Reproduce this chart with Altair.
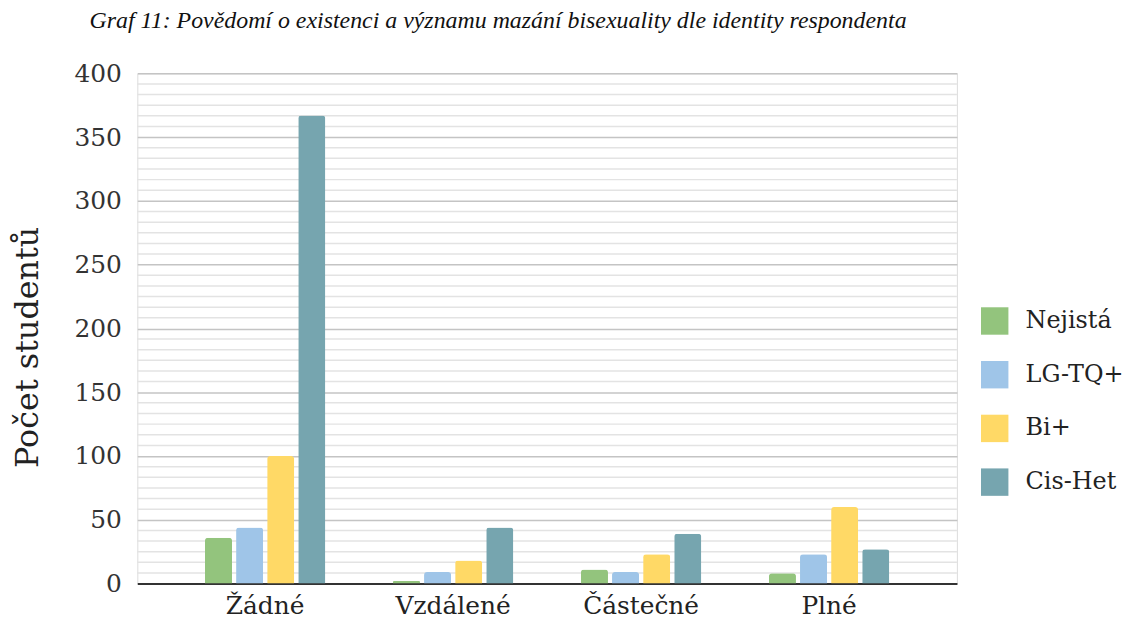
import altair as alt
import pandas as pd

categories = ["Žádné", "Vzdálené", "Částečné", "Plné"]
groups = ["Nejistá", "LG-TQ+", "Bi+", "Cis-Het"]
colors = ["#93c47d", "#9fc5e8", "#ffd966", "#76a5af"]
nejista = [36, 2, 11, 8]
lgtq = [44, 9, 9, 23]
bi = [100, 18, 23, 60]
cishet = [367, 44, 39, 27]

series = {"Nejistá": nejista, "LG-TQ+": lgtq, "Bi+": bi, "Cis-Het": cishet}
rows = []
for g in groups:
    for c, v in zip(categories, series[g]):
        rows.append({"kategorie": c, "identita": g, "pocet": v})
df = pd.DataFrame(rows)

major_ticks = list(range(0, 401, 50))
minor_ticks = [i * 50 / 6 for i in range(49) if i % 6 != 0]
minor_df = pd.DataFrame({"pocet": minor_ticks})

yscale = alt.Scale(domain=[0, 400], nice=False)
yaxis = alt.Axis(
    title="Počet studentů", values=major_ticks, domain=False, ticks=False,
    gridColor="#c4c4c4", gridWidth=1.5, labelFont="DejaVu Serif",
    labelFontSize=25, labelColor="#333333", labelPadding=16,
    titleFont="DejaVu Serif", titleFontSize=32, titleFontWeight="normal",
    titleColor="#222222", titleAngle=270, titleX=-110, titleY=275,
    titleAlign="center", titleBaseline="middle",
)

minor = alt.Chart(minor_df).mark_rule(color="#e3e3e3", strokeWidth=1.5).encode(
    y=alt.Y("pocet:Q", scale=yscale, axis=yaxis)
)

bars = alt.Chart(df).mark_bar(cornerRadiusTopLeft=3, cornerRadiusTopRight=3).encode(
    x=alt.X(
        "kategorie:N",
        sort=categories,
        scale=alt.Scale(paddingInner=0.36, paddingOuter=0.36),
        axis=alt.Axis(
            title=None, labelAngle=0, ticks=False, domainColor="#333333",
            domainWidth=2, labelFont="DejaVu Serif", labelFontSize=25,
            labelColor="#222222", labelPadding=10, grid=False,
        ),
    ),
    xOffset=alt.XOffset("identita:N", sort=groups, scale=alt.Scale(paddingInner=0.13)),
    y=alt.Y("pocet:Q", scale=yscale, axis=yaxis),
    color=alt.Color(
        "identita:N", sort=groups,
        scale=alt.Scale(domain=groups, range=colors),
        legend=alt.Legend(
            title=None, orient="none", legendX=848, legendY=235,
            symbolType="square", symbolSize=760, symbolStrokeWidth=0,
            labelFont="DejaVu Serif", labelFontSize=24, labelColor="#222222",
            labelOffset=17, rowPadding=26,
        ),
    ),
)

chart = alt.layer(minor, bars).properties(
    width=824,
    height=513,
    autosize=alt.AutoSizeParams(type="none"),
    padding={"left": 130, "top": 64, "right": 170, "bottom": 45},
    title=alt.Title(
        "Graf 11: Povědomí o existenci a významu mazání bisexuality dle identity respondenta",
        font="Liberation Serif", fontSize=24, fontStyle="italic", fontWeight="normal",
        color="#111111", anchor="start", frame="group", dx=-48, offset=10,
        baseline="alphabetic",
    ),
).configure_view(stroke=None).configure(background="white")

chart.save("out.html", embed_options={"renderer": "svg", "actions": False})
